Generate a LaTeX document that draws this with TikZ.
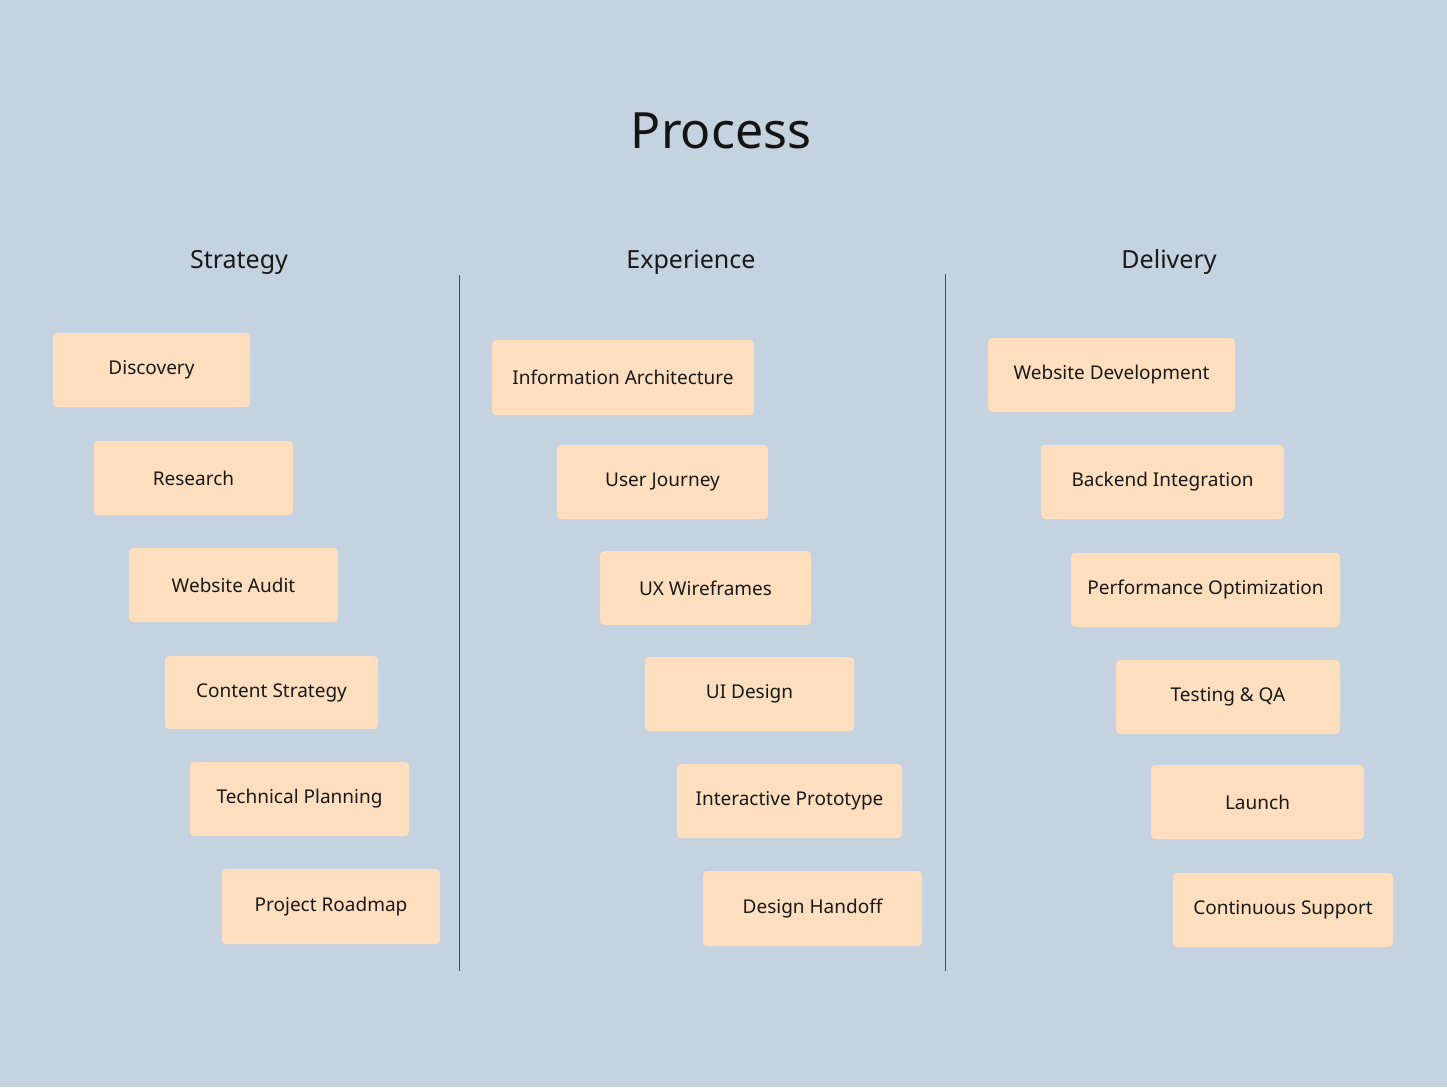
\documentclass[tikz,border=0pt]{standalone}
\usepackage{fontspec}
\setmainfont{Noto Sans}
\definecolor{bg}{HTML}{C5D2DF}
\definecolor{bx}{HTML}{FDDFC0}
\begin{document}
\begin{tikzpicture}[x=1pt,y=-1pt,
  box/.style={fill=bx,rounded corners=4pt,inner sep=0pt,font=\fontsize{19}{22}\selectfont,text=black!90},
  head/.style={font=\fontsize{25}{30}\selectfont,text=black!90},
  sep/.style={draw=black!70,line width=0.9pt}]
\fill[bg] (0,0) rectangle (1447,1087);
\useasboundingbox (0,0) rectangle (1447,1087);
\node[font=\fontsize{50}{60}\selectfont\bfseries,text=black!92] (title) at (721,131) {Process};
\node[head] (h1) at (239,262) {Strategy};
\node[head] (h2) at (691,262) {Experience};
\node[head] (h3) at (1169,262) {Delivery};
\coordinate (l1a) at (459,275); \coordinate (l1b) at (459,971);
\coordinate (l2a) at (945,274); \coordinate (l2b) at (945,971);
\draw[sep] (l1a) -- (l1b);
\draw[sep] (l2a) -- (l2b);
\foreach \n/\xa/\ya/\xb/\yb/\t in {
 a1/53/333/250/407/Discovery,
 a2/94/441/293/515/Research,
 a3/129/548/338/622/Website Audit,
 a4/165/656/378/729/Content Strategy,
 a5/190/762/409/836/Technical Planning,
 a6/222/869/440/944/Project Roadmap,
 b1/492/340/754/415/Information Architecture,
 b2/557/445/768/519/User Journey,
 b3/600/551/811/625/UX Wireframes,
 b4/645/657/854/731/UI Design,
 b5/677/764/902/838/Interactive Prototype,
 b6/703/871/922/946/Design Handoff,
 c1/988/338/1235/412/Website Development,
 c2/1041/445/1284/519/Backend Integration,
 c3/1071/553/1340/627/Performance Optimization,
 c4/1116/660/1340/734/Testing \& QA,
 c5/1151/765/1364/839/Launch,
 c6/1173/873/1393/947/Continuous Support}
 \node[box,minimum width={(\xb-\xa)*1pt},minimum height={(\yb-\ya)*1pt}] (\n) at ({(\xa+\xb)/2},{(\ya+\yb)/2}) {\t};
\end{tikzpicture}
\end{document}
